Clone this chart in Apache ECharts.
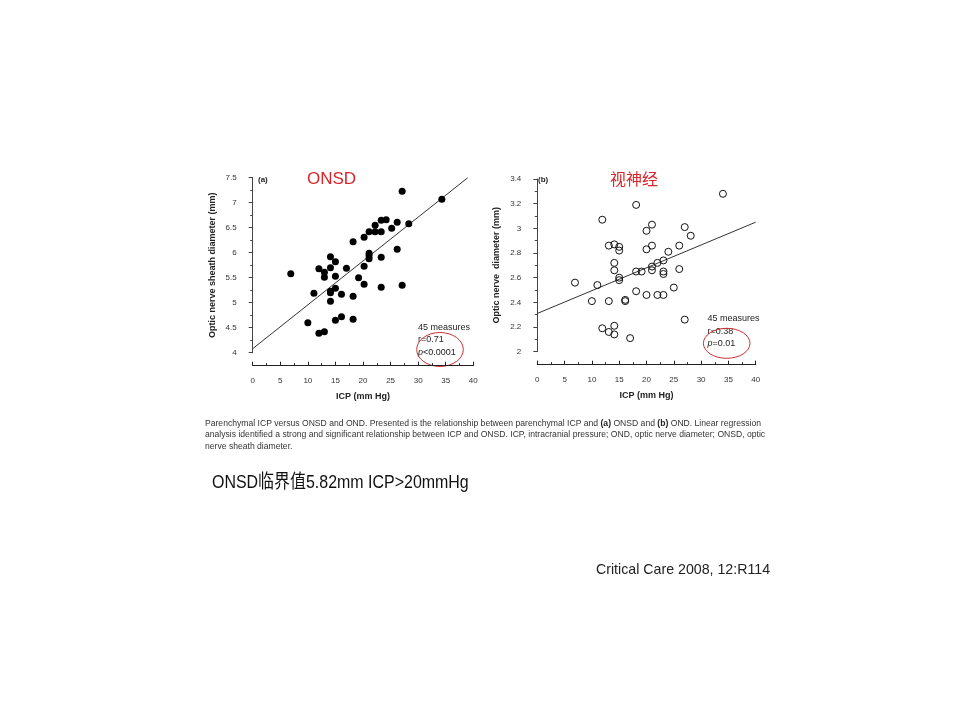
<!DOCTYPE html>
<html>
<head>
<meta charset="utf-8">
<script src="https://cdn.jsdelivr.net/npm/echarts@6/dist/echarts.min.js"></script>
<style>
  html, body { margin: 0; padding: 0; background: #fff; }
  #main { width: 960px; height: 720px; }
</style>
</head>
<body>
<div id="main"></div>
<script>
// panel (a): ICP vs ONSD
const icpA = [6.9, 27.1, 34.3, 28.3, 26.2, 25.2, 24.2, 23.3, 23.3, 22.2, 22.2, 21.1, 20.2, 18.2, 21.1,
  21.1, 21.1, 23.3, 26.2, 20.2, 19.2, 20.2, 23.3, 27.1, 17.0, 14.1, 15.0, 14.1, 12.0, 13.0,
  13.0, 15.0, 15.0, 14.1, 16.1, 11.1, 14.1, 18.2, 18.2, 16.1, 15.0, 10.0, 12.0, 13.0, 14.1]
const onsdA = [5.58, 7.23, 7.07, 6.58, 6.61, 6.49, 6.66, 6.65, 6.42, 6.55, 6.42, 6.42, 6.31, 6.22, 5.99,
  5.94, 5.88, 5.91, 6.07, 5.73, 5.50, 5.37, 5.31, 5.35, 5.69, 5.92, 5.82, 5.70, 5.68, 5.61,
  5.51, 5.53, 5.29, 5.23, 5.17, 5.19, 5.03, 5.13, 4.67, 4.72, 4.65, 4.60, 4.39, 4.42, 5.20]
const fitA = [[0, 4.08], [39, 7.5]]

// panel (b): ICP vs OND
const icpB = [6.9, 11.0, 10.0, 13.1, 11.9, 13.1, 14.1, 15.0, 15.0, 14.1, 14.1, 15.0, 15.0, 16.1, 16.1,
  11.9, 13.1, 14.1, 14.1, 17.0, 18.1, 18.1, 18.1, 19.1, 20.0, 20.0, 21.0, 21.0, 21.0, 21.0,
  20.0, 22.0, 22.0, 23.1, 23.1, 23.1, 23.1, 24.0, 25.0, 26.0, 26.0, 27.0, 27.0, 28.1, 34.0]
const ondB = [2.56, 2.54, 2.41, 2.41, 3.07, 2.86, 2.87, 2.85, 2.82, 2.72, 2.66, 2.60, 2.58, 2.41, 2.42,
  2.19, 2.16, 2.21, 2.14, 2.11, 3.19, 2.65, 2.49, 2.65, 2.98, 2.83, 3.03, 2.86, 2.69, 2.66,
  2.46, 2.72, 2.46, 2.46, 2.74, 2.65, 2.63, 2.81, 2.52, 2.86, 2.67, 3.01, 2.26, 2.94, 3.28]
const fitB = [[0, 2.31], [40, 3.05]]

const statsA = ['45 measures', 'r=0.71', '<0.0001']
const statsB = ['45 measures', 'r=0.38', '=0.01']

const FONT = "'Liberation Sans', Arial, sans-serif"

const zip = (xs, ys) => xs.map((x, i) => [x, ys[i]])

function xAxisOf(gridIndex) {
  return {
    gridIndex: gridIndex,
    type: 'value',
    min: 0, max: 40, interval: 5,
    offset: 13,
    name: 'ICP (mm Hg)',
    nameLocation: 'middle',
    nameGap: 26,
    nameTextStyle: { fontFamily: FONT, fontWeight: 'bold', fontSize: 9, color: '#222' },
    axisLine: { lineStyle: { color: '#222', width: 1.2 } },
    axisTick: { inside: true, length: 4, lineStyle: { color: '#222' } },
    minorTick: { show: true, splitNumber: 2, length: 2.5, lineStyle: { color: '#222' } },
    axisLabel: { fontFamily: FONT, fontSize: 8, color: '#333', margin: 11 },
    splitLine: { show: false }
  }
}

function yAxisOf(gridIndex, min, max, interval, name) {
  return {
    gridIndex: gridIndex,
    type: 'value',
    min: min, max: max, interval: interval,
    offset: 11,
    name: name,
    nameLocation: 'middle',
    nameGap: 25,
    nameTextStyle: { fontFamily: FONT, fontWeight: 'bold', fontSize: 9, color: '#222' },
    axisLine: { show: true, lineStyle: { color: '#444', width: 1 } },
    axisTick: { show: true, length: 4, lineStyle: { color: '#444' } },
    minorTick: { show: true, splitNumber: 2, length: 2.5, lineStyle: { color: '#444' } },
    axisLabel: { fontFamily: FONT, fontSize: 8, color: '#333', margin: 5 },
    splitLine: { show: false }
  }
}

function statText(left, top, lines) {
  return {
    type: 'text', left: left, top: top,
    style: {
      text: lines[0] + '\n' + lines[1] + '\n{i|p}' + lines[2],
      fontFamily: FONT, fontSize: 9, lineHeight: 12.5, fill: '#222',
      rich: { i: { fontStyle: 'italic', fontFamily: FONT, fontSize: 9 } }
    }
  }
}

const chart = echarts.init(document.getElementById('main'))
chart.setOption({
  backgroundColor: '#fff',
  animation: false,
  grid: [
    { left: 252.7, top: 177.7, width: 220.6, height: 175 },
    { left: 537.3, top: 179, width: 218.4, height: 172.7 }
  ],
  xAxis: [xAxisOf(0), xAxisOf(1)],
  yAxis: [
    yAxisOf(0, 4, 7.5, 0.5, 'Optic nerve sheath diameter (mm)'),
    yAxisOf(1, 2, 3.4, 0.2, 'Optic nerve  diameter (mm)')
  ],
  series: [
    {
      type: 'line', xAxisIndex: 0, yAxisIndex: 0, data: fitA,
      symbol: 'none', lineStyle: { color: '#333', width: 1 }, z: 1
    },
    {
      type: 'scatter', xAxisIndex: 0, yAxisIndex: 0, data: zip(icpA, onsdA),
      symbolSize: 7, itemStyle: { color: '#000', opacity: 1 }, z: 2
    },
    {
      type: 'line', xAxisIndex: 1, yAxisIndex: 1, data: fitB,
      symbol: 'none', lineStyle: { color: '#333', width: 1 }, z: 1
    },
    {
      type: 'scatter', xAxisIndex: 1, yAxisIndex: 1, data: zip(icpB, ondB),
      symbolSize: 7,
      itemStyle: { color: 'rgba(255,255,255,0)', borderColor: '#111', borderWidth: 1, opacity: 1 }, z: 2
    }
  ],
  graphic: [
    { type: 'text', left: 258, top: 176, style: { text: '(a)', fontFamily: FONT, fontWeight: 'bold', fontSize: 8, fill: '#222' } },
    { type: 'text', left: 538, top: 176, style: { text: '(b)', fontFamily: FONT, fontWeight: 'bold', fontSize: 8, fill: '#222' } },
    { type: 'text', left: 307, top: 171, style: { text: 'ONSD', fontFamily: FONT, fontSize: 17, fill: '#d9262b' } },
    { type: 'text', left: 610, top: 171, style: { text: '视神经', fontFamily: "'Noto Sans CJK SC', sans-serif", fontSize: 16, fill: '#d9262b' } },
    statText(418, 321, statsA),
    statText(707.5, 312.5, statsB),
    { type: 'ellipse', shape: { cx: 440, cy: 349.5, rx: 23.3, ry: 17 }, style: { fill: 'none', stroke: '#d03030', lineWidth: 1 } },
    { type: 'ellipse', shape: { cx: 726.7, cy: 343.3, rx: 23.3, ry: 15 }, style: { fill: 'none', stroke: '#d03030', lineWidth: 1 } },
    {
      type: 'text', left: 205, top: 417.5,
      style: {
        text: 'Parenchymal ICP versus ONSD and OND. Presented is the relationship between parenchymal ICP and {b|(a)} ONSD and {b|(b)} OND. Linear regression\n' +
          'analysis identified a strong and significant relationship between ICP and ONSD. ICP, intracranial pressure; OND, optic nerve diameter; ONSD, optic\n' +
          'nerve sheath diameter.',
        fontFamily: FONT, fontSize: 8.6, lineHeight: 11.5, fill: '#333',
        rich: { b: { fontFamily: FONT, fontWeight: 'bold', fontSize: 8.6, fill: '#222' } }
      }
    },
    {
      type: 'text', x: 212, y: 473, scaleX: 0.84,
      style: { text: 'ONSD临界值5.82mm ICP>20mmHg', fontFamily: "'Liberation Sans', 'Noto Sans CJK SC', sans-serif", fontSize: 19, fill: '#111' }
    },
    { type: 'text', left: 596, top: 563, style: { text: 'Critical Care 2008, 12:R114', fontFamily: FONT, fontSize: 14.2, fill: '#222' } }
  ]
})
</script>
</body>
</html>
